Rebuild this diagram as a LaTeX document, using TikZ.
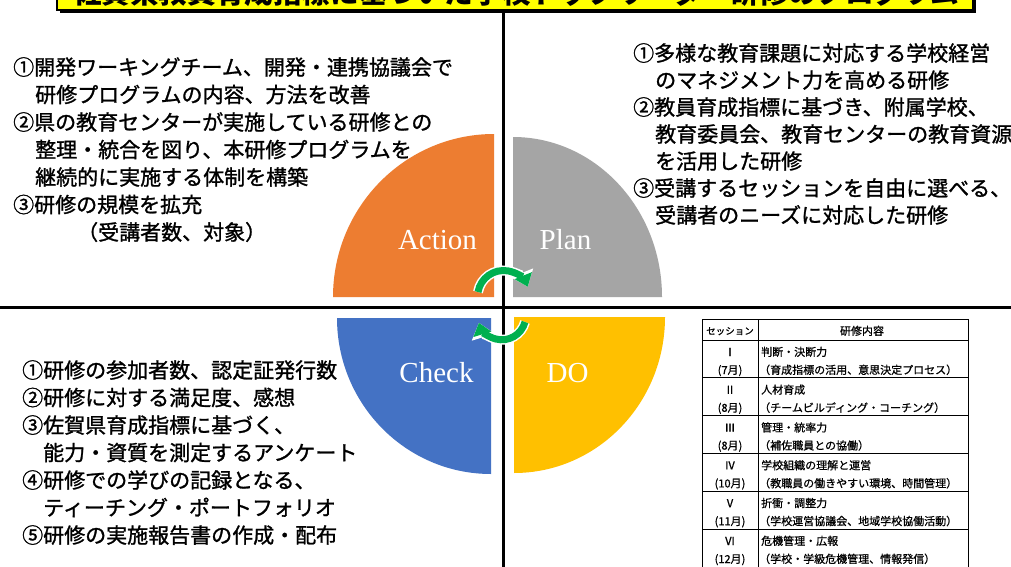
\documentclass[tikz,border=0pt]{standalone}
\usepackage{fontspec}
\setmainfont{Liberation Serif}
\newfontfamily\jp{Noto Sans CJK JP}
\newfontfamily\jpm{Noto Sans CJK JP}[FakeBold=1.2]
\newfontfamily\jpt{Noto Sans CJK JP}[FakeBold=0.8]
\usetikzlibrary{arrows.meta}
\definecolor{cAct}{HTML}{ED7D31}
\definecolor{cPlan}{HTML}{A5A5A5}
\definecolor{cChk}{HTML}{4472C4}
\definecolor{cDo}{HTML}{FFC000}
\definecolor{cGrn}{HTML}{00B050}
\definecolor{cTitle}{HTML}{FFFF00}
\tikzset{
  body/.style={anchor=base west, inner sep=0pt, font=\jpm\fontsize{21}{25}\selectfont},
  tcell/.style={anchor=base west, inner sep=0pt, font=\jpt\fontsize{11}{13}\selectfont},
  tmid/.style={anchor=base, inner sep=0pt, font=\jpt\fontsize{11}{13}\selectfont},
  plab/.style={anchor=base, inner sep=0pt, text=white, font=\fontsize{29}{32}\selectfont},
  tline/.style={draw=black, line width=0.9pt},
  cross/.style={draw=black, line width=3pt},
  garrw/.style={draw=white, line width=10pt, -{Triangle[width=23pt,length=15pt]}},
  garr/.style={draw=cGrn, line width=7pt, -{Triangle[width=18pt,length=12pt]}}
}
\begin{document}
\begin{tikzpicture}[x=1pt,y=-1pt]
\useasboundingbox (0,0) rectangle (1011,567);
\clip (0,0) rectangle (1011,567);
\fill[white] (0,0) rectangle (1011,567);

% title
\fill[black] (60,-40) rectangle (976,13);
\filldraw[fill=cTitle, draw=black, line width=1.5pt] (57,-40) rectangle (973,10);
\node[anchor=base, inner sep=0pt, font=\jp\bfseries\fontsize{28.6}{30}\selectfont] (title) at (516,4) {佐賀県教員育成指標に基づいた学校トップリーダー研修のプログラム};

% cross
\coordinate (vt) at (503,11);
\coordinate (vb) at (503,567);
\coordinate (hl) at (0,307);
\coordinate (hr) at (1011,307);
\draw[cross] (vt) -- (vb);
\draw[cross] (hl) -- (hr);

% quarter shapes
\fill[cAct] (494,297) -- (333,297) arc[start angle=180, end angle=270, x radius=161, y radius=163] -- cycle;
\fill[cPlan] (513,297) -- (513,137) arc[start angle=270, end angle=360, x radius=149, y radius=160] -- cycle;
\fill[cChk] (491,318) -- (337,318) arc[start angle=180, end angle=90, x radius=154, y radius=156] -- cycle;
\fill[cDo] (514,317) -- (665,317) arc[start angle=0, end angle=90, x radius=151, y radius=156] -- cycle;

\node[plab] (act) at (437.5,249) {Action};
\node[plab] (plan) at (565.5,249) {Plan};
\node[plab] (chk) at (436.5,382) {Check};
\node[plab] (do) at (567.5,382) {DO};

% green arrows
\coordinate (ga) at (478,292);
\coordinate (gb) at (525,322);
\draw[garrw] (ga) arc[start angle=190, end angle=338, radius=26];
\draw[garr] (ga) arc[start angle=190, end angle=338, radius=26];
\draw[garrw] (gb) arc[start angle=15, end angle=163, radius=24];
\draw[garr] (gb) arc[start angle=15, end angle=163, radius=24];

% top-left text
\node[body] (a1) at (13,75) {①開発ワーキングチーム、開発・連携協議会で};
\node[body] (a2) at (35,102.5) {研修プログラムの内容、方法を改善};
\node[body] (a3) at (13,130) {②県の教育センターが実施している研修との};
\node[body] (a4) at (35,157.5) {整理・統合を図り、本研修プログラムを};
\node[body] (a5) at (35,185) {継続的に実施する体制を構築};
\node[body] (a6) at (13,212.5) {③研修の規模を拡充};
\node[body] (a7) at (77,240) {（受講者数、対象）};

% top-right text
\node[body] (p1) at (633,61) {①多様な教育課題に対応する学校経営};
\node[body] (p2) at (655,88) {のマネジメント力を高める研修};
\node[body] (p3) at (633,115) {②教員育成指標に基づき、附属学校、};
\node[body] (p4) at (655,142) {教育委員会、教育センターの教育資源};
\node[body] (p5) at (655,169) {を活用した研修};
\node[body] (p6) at (633,196) {③受講するセッションを自由に選べる、};
\node[body] (p7) at (655,223) {受講者のニーズに対応した研修};

% bottom-left text
\node[body] (c1) at (22,378) {①研修の参加者数、認定証発行数};
\node[body] (c2) at (22,405.5) {②研修に対する満足度、感想};
\node[body] (c3) at (22,433) {③佐賀県育成指標に基づく、};
\node[body] (c4) at (43,460.5) {能力・資質を測定するアンケート};
\node[body] (c5) at (22,488) {④研修での学びの記録となる、};
\node[body] (c6) at (43,515.5) {ティーチング・ポートフォリオ};
\node[body] (c7) at (22,543) {⑤研修の実施報告書の作成・配布};

% table
\draw[tline] (702,319) rectangle (968,600);
\draw[tline] (758,319) -- (758,600);
\foreach \yy in {340,377.8,415.6,453.4,491.2,529} {
  \draw[tline] (702,\yy) -- (968,\yy);
}
\node[anchor=base, inner sep=0pt, font=\jpt\fontsize{9.5}{11}\selectfont] (h1) at (730,334.5) {セッション};
\node[tmid] (h2) at (862,335) {研修内容};

\node[tmid] (n1) at (730,356) {Ⅰ};
\node[tmid] (m1) at (730,374) {(7月)};
\node[tcell] (r1a) at (761,356) {判断・決断力};
\node[tcell] (r1b) at (759,374) {（育成指標の活用、意思決定プロセス）};

\node[tmid] (n2) at (730,393.8) {Ⅱ};
\node[tmid] (m2) at (730,411.8) {(8月)};
\node[tcell] (r2a) at (761,393.8) {人材育成};
\node[tcell] (r2b) at (759,411.8) {（チームビルディング・コーチング）};

\node[tmid] (n3) at (730,431.6) {Ⅲ};
\node[tmid] (m3) at (730,449.6) {(8月)};
\node[tcell] (r3a) at (761,431.6) {管理・統率力};
\node[tcell] (r3b) at (759,449.6) {（補佐職員との協働）};

\node[tmid] (n4) at (730,469.4) {Ⅳ};
\node[tmid] (m4) at (730,487.4) {(10月)};
\node[tcell] (r4a) at (761,469.4) {学校組織の理解と運営};
\node[tcell] (r4b) at (759,487.4) {（教職員の働きやすい環境、時間管理）};

\node[tmid] (n5) at (730,507.2) {Ⅴ};
\node[tmid] (m5) at (730,525.2) {(11月)};
\node[tcell] (r5a) at (761,507.2) {折衝・調整力};
\node[tcell] (r5b) at (759,525.2) {（学校運営協議会、地域学校協働活動）};

\node[tmid] (n6) at (730,545) {Ⅵ};
\node[tmid] (m6) at (730,563) {(12月)};
\node[tcell] (r6a) at (761,545) {危機管理・広報};
\node[tcell] (r6b) at (759,563) {（学校・学級危機管理、情報発信）};
\end{tikzpicture}
\end{document}
